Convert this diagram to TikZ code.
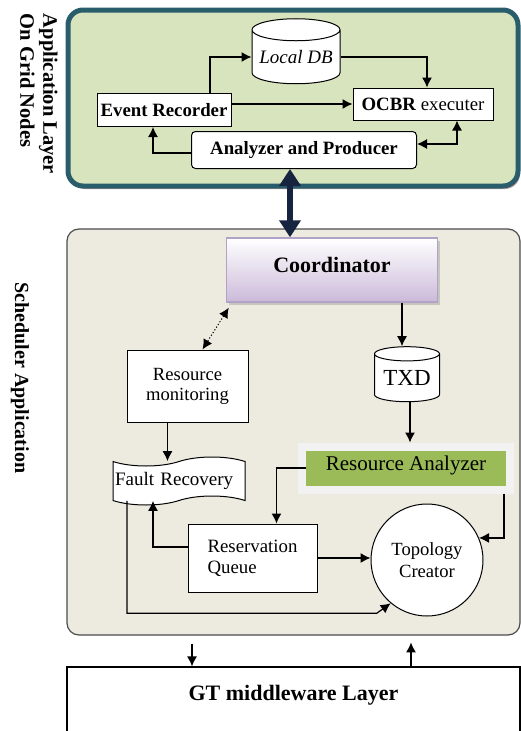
\documentclass[tikz,border=0pt]{standalone}
\usepackage{fontspec}
\setmainfont{Liberation Serif}
\usetikzlibrary{arrows.meta,shapes.geometric,shapes.symbols,shadows}
\definecolor{appgreen}{HTML}{D7E4BD}
\definecolor{appborder}{HTML}{2A5D6B}
\definecolor{appshadow}{HTML}{C9A3A3}
\definecolor{schedfill}{HTML}{EDEBE0}
\definecolor{coordlav}{HTML}{CBBAD9}
\definecolor{coordborder}{HTML}{B3A2C7}
\definecolor{ragreen}{HTML}{9BBB59}
\definecolor{raframe}{HTML}{F2F2F2}
\definecolor{navy}{HTML}{17243F}
\newcommand\fsz[2]{\fontsize{#1}{#2}\selectfont}

\begin{document}
\begin{tikzpicture}[x=1pt,y=-1pt,
  box/.style={draw, fill=white, line width=1pt, inner sep=0pt},
  db/.style={cylinder, shape border rotate=90, shape aspect=0.3},
  arr/.style={line width=1.2pt, -{Latex[length=10pt,width=10pt]}},
  dbl/.style={line width=1.2pt, {Latex[length=10pt,width=10pt]}-{Latex[length=10pt,width=10pt]}},
  lbl/.style={font=\bfseries\fsz{20.5}{23}, rotate=-90, inner sep=0pt}]
\useasboundingbox (0,0) rectangle (521,731);
% application layer
\node[draw=appborder, line width=5pt, fill=appgreen, rounded corners=15pt, minimum width=450, minimum height=176,
  drop shadow={shadow xshift=2pt, shadow yshift=-3pt, fill=appshadow, opacity=1}] (app) at (293,98) {};
\node[lbl, align=left] (applbl) at (39,94) {Application Layer\\On Grid Nodes};
\node[box, db, minimum width=88, minimum height=65, font=\itshape\fsz{19}{21}] (ldb) at (296,57) {Local DB};
\node[box, minimum width=134, minimum height=33, font=\bfseries\fsz{18.8}{21}] (er) at (164,110) {Event Recorder};
\node[box, minimum width=140, minimum height=32, font=\fsz{18.8}{21}] (ocbr) at (423,104) {\textbf{OCBR} executer};
\node[box, rounded corners=4pt, minimum width=225, minimum height=37, font=\bfseries\fsz{18.8}{21}] (ap) at (304,150) {Analyzer and Producer};
\draw[arr] ([xshift=46]er.north) |- (ldb.180);
\draw[arr] (ldb.0) -| ([xshift=4]ocbr.north);
\draw[arr] (ocbr.west -| er.east) -- (ocbr.west);
\draw[arr] ([yshift=-3]ap.west) -| ([xshift=-11]er.south);
\draw[dbl] ([yshift=6]ap.east) -| ([xshift=34]ocbr.south);
% scheduler application
\node[draw=black!70, line width=1.2pt, fill=schedfill, rounded corners=12pt, minimum width=453, minimum height=406] (sched) at (293.5,432) {};
\node[lbl, font=\bfseries\fsz{20}{23}] (schedlbl) at (20,378) {Scheduler Application};
\node[draw=coordborder, line width=1.5pt, top color=white, bottom color=coordlav, minimum width=211, minimum height=64,
  font=\bfseries\fsz{22}{24}, text height=15pt, text depth=11pt,
  drop shadow={shadow xshift=2pt, shadow yshift=-3pt, opacity=0.35}] (coord) at (332,270) {Coordinator};
\draw[line width=6pt, draw=navy, {Triangle[length=17pt,width=21pt]}-{Triangle[length=17pt,width=21pt]}]
  ([xshift=-14]ap.south) -- ([xshift=-14]ap.south |- coord.north);
\node[box, minimum width=121, minimum height=72, align=center, font=\fsz{18.6}{20}] (rm) at (187.5,386) {Resource\\monitoring};
\node[box, db, minimum width=65, minimum height=55, font=\fsz{23}{25}] (txd) at (407,378) {TXD};
\node[draw=raframe, line width=8pt, fill=ragreen, minimum width=208, minimum height=43, font=\fsz{21}{24}, text height=14pt, text depth=10pt,
  drop shadow={shadow xshift=3pt, shadow yshift=-3pt, opacity=0.45}] (ra) at (406,468) {Resource Analyzer};
\node[box, tape, tape bend height=9pt, minimum width=132, minimum height=48, text width=128pt, align=left, inner xsep=2pt, font=\fsz{19}{21}] (fr) at (179,481) {Fault Recovery};
\node[box, minimum width=129, minimum height=68, align=left, font=\fsz{18.8}{21}] (rq) at (252.5,558) {Reservation\\Queue};
\node[box, circle, minimum size=112, align=center, font=\fsz{18.6}{22}] (tc) at (427,560) {Topology\\Creator};
\draw[dbl, dotted, line width=1pt] ([xshift=3,yshift=-5]coord.south west) -- ([xshift=15]rm.north);
\draw[arr] ([xshift=-5]txd.90 |- coord.south) -- ([xshift=-5]txd.90);
\draw[arr] ([xshift=3]txd.south) -- ([xshift=3]txd.south |- ra.north);
\draw[arr] ([xshift=-20]rm.south) -- ([xshift=-20]rm.south |- fr.north);
\draw[arr] ([xshift=8]ra.west) -| ([xshift=24]rq.north);
\draw[arr] ([xshift=-10]ra.south east) |- (tc.23);
\draw[arr] (rq.east) -- (rq.east -| tc.west);
\draw[arr] ([yshift=11]rq.west) -| ([xshift=-26]fr.south);
\draw[arr] ([xshift=-52]fr.south) |- ([xshift=-14,yshift=-10]tc.-130) -- (tc.-130);
% middleware
\node[draw, line width=1.2pt, fill=white, minimum width=453, minimum height=78, font=\bfseries\fsz{22}{24}, text height=15pt, text depth=27pt] (gt) at (293.5,706) {GT middleware Layer};
\draw[arr] ([xshift=-101.5]sched.south) ++(0,8) -- ([xshift=-101.5]gt.north);
\draw[arr] ([xshift=117.5]gt.north) -- ++(0,-24);
\end{tikzpicture}
\end{document}
